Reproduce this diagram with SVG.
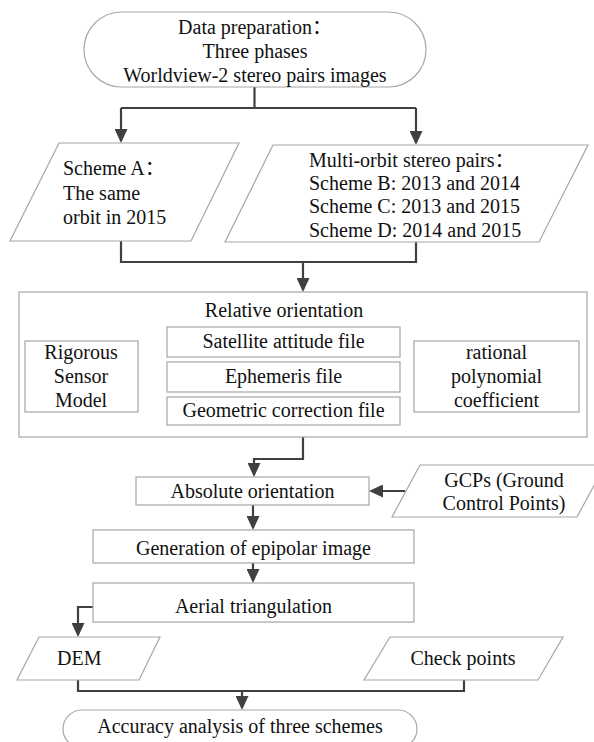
<svg xmlns="http://www.w3.org/2000/svg" width="594" height="742" viewBox="0 0 594 742" font-family="Liberation Serif, serif" font-size="20">
<style>
.box{fill:#fff;stroke:#a6a6a6;stroke-width:1.2}
.t{fill:#111}
.cjk{font-family:"Noto Sans CJK SC",sans-serif}
.m{text-anchor:middle}
.c{fill:none;stroke:#404040;stroke-width:2.2}
.a{marker-end:url(#ah)}
</style>
<defs>
<marker id="ah" markerUnits="userSpaceOnUse" viewBox="0 0 14 13" refX="12" refY="6.5" markerWidth="14" markerHeight="13" orient="auto">
<path d="M0,0 L14,6.5 L0,13 z" fill="#404040"/>
</marker>
</defs>
<rect width="594" height="742" fill="#fff"/>
<g id="connectors">
<path class="c" d="M254.5,87 V108"/>
<path class="c" d="M121,108 H416"/>
<path class="c a" d="M121,108 V141"/>
<path class="c a" d="M416,108 V143"/>
<path class="c" d="M121,241 V262 H416 V242"/>
<path class="c a" d="M303,262 V290"/>
<path class="c" d="M167,342 H155 V412 H167"/>
<path class="c a" d="M156,377 H140"/>
<path d="M155,377 H167" stroke="#5b9bd5" stroke-width="1.5" fill="none"/>
<path class="c a" d="M303,437 V459 H254 V475"/>
<path class="c a" d="M405,491 H371"/>
<path class="c a" d="M253,505 V528"/>
<path class="c a" d="M253,563 V581"/>
<path class="c a" d="M93,607 H78 V635"/>
<path class="c" d="M78,680 V691 H464 V680"/>
<path class="c a" d="M242,691 V708"/>
</g>
<g id="start">
<rect class="box" x="84" y="12" width="342" height="75" rx="37.5"/>
<text class="t m" x="255" y="34">Data preparation<tspan class="cjk">：</tspan></text>
<text class="t m" x="255" y="58">Three phases</text>
<text class="t m" x="255" y="82">Worldview-2 stereo pairs images</text>
</g>
<g id="schemeA">
<polygon class="box" points="59,143 239,143 191,241 10,241"/>
<text class="t" x="63" y="175">Scheme A<tspan class="cjk">：</tspan></text>
<text class="t" x="63" y="200">The same</text>
<text class="t" x="63" y="224">orbit in 2015</text>
</g>
<g id="multiorbit">
<polygon class="box" points="273,145 588,145 539,242 225,242"/>
<text class="t" x="309" y="167">Multi-orbit stereo pairs<tspan class="cjk">：</tspan></text>
<text class="t" x="309" y="190">Scheme B: 2013 and 2014</text>
<text class="t" x="309" y="213">Scheme C: 2013 and 2015</text>
<text class="t" x="309" y="237">Scheme D: 2014 and 2015</text>
</g>
<g id="relative">
<rect class="box" x="19" y="292" width="568" height="145"/>
<text class="t m" x="284" y="317">Relative orientation</text>
</g>
<g id="satellite">
<rect class="box" x="167" y="327" width="233" height="30"/>
<text class="t m" x="283.5" y="348">Satellite attitude file</text>
</g>
<g id="ephemeris">
<rect class="box" x="167" y="362" width="233" height="30"/>
<text class="t m" x="283.5" y="383">Ephemeris file</text>
</g>
<g id="geometric">
<rect class="box" x="167" y="397" width="233" height="28"/>
<text class="t m" x="283.5" y="417">Geometric correction file</text>
</g>
<g id="rigorous">
<rect class="box" x="25" y="341" width="113" height="71"/>
<text class="t m" x="81" y="359">Rigorous</text>
<text class="t m" x="81" y="383">Sensor</text>
<text class="t m" x="81" y="407">Model</text>
</g>
<g id="rpc">
<rect class="box" x="414" y="341" width="165" height="71"/>
<text class="t m" x="496.5" y="359">rational</text>
<text class="t m" x="496.5" y="383">polynomial</text>
<text class="t m" x="496.5" y="407">coefficient</text>
</g>
<g id="absolute">
<rect class="box" x="136" y="477" width="233" height="28"/>
<text class="t m" x="252.5" y="498">Absolute orientation</text>
</g>
<g id="gcps">
<polygon class="box" points="420,465 605,465 577,517 392,517"/>
<text class="t m" x="504" y="487">GCPs (Ground</text>
<text class="t m" x="504" y="510">Control Points)</text>
</g>
<g id="epipolar">
<rect class="box" x="93" y="530" width="321" height="33"/>
<text class="t m" x="253.5" y="555">Generation of epipolar image</text>
</g>
<g id="aerial">
<rect class="box" x="93" y="583" width="321" height="39"/>
<text class="t m" x="253.5" y="613">Aerial triangulation</text>
</g>
<g id="dem">
<polygon class="box" points="39,637 160,637 139,680 17,680"/>
<text class="t" x="57" y="665">DEM</text>
</g>
<g id="checkpoints">
<polygon class="box" points="390,637 563,637 538,680 364,680"/>
<text class="t m" x="463" y="665">Check points</text>
</g>
<g id="end">
<rect class="box" x="63" y="710" width="354" height="38" rx="19"/>
<text class="t m" x="240" y="733">Accuracy analysis of three schemes</text>
</g>
</svg>
